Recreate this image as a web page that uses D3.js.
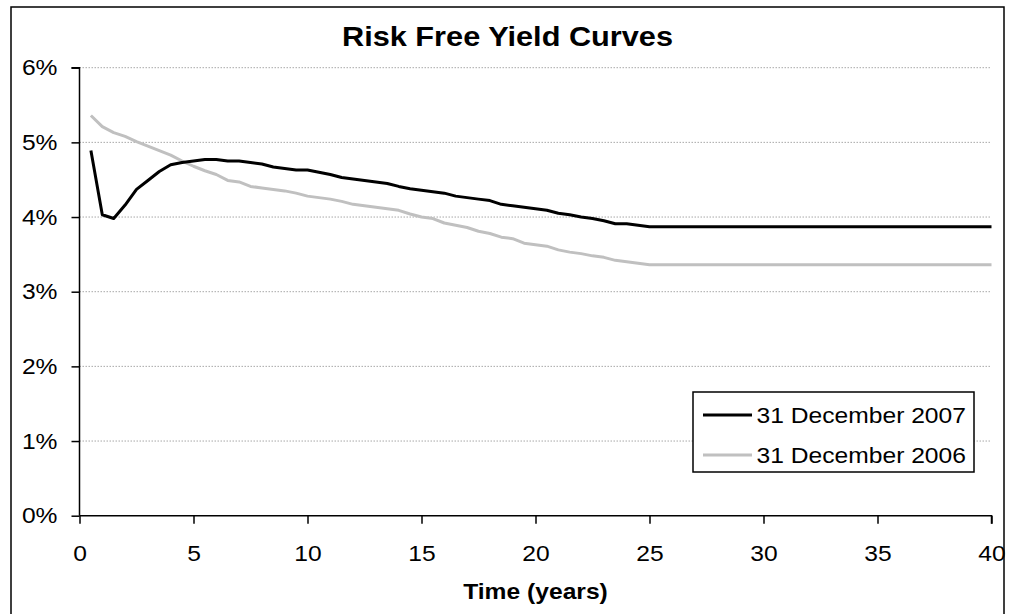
<!DOCTYPE html>
<html>
<head>
<meta charset="utf-8">
<script src="https://cdn.jsdelivr.net/npm/d3@7"></script>
<style>
  html, body { margin: 0; padding: 0; background: #fff; }
  svg text { font-family: "Liberation Sans", Arial, sans-serif; fill: #000; }
</style>
</head>
<body>
<div class="chart"></div>
<script>
const width = 1010;
const height = 614;

// maturities (years) and yields (%)
const years = [0.5, 1, 1.5, 2, 2.5, 3, 3.5, 4, 4.5, 5, 5.5, 6, 6.5, 7, 7.5, 8, 8.5, 9, 9.5, 10,
	10.5, 11, 11.5, 12, 12.5, 13, 13.5, 14, 14.5, 15, 15.5, 16, 16.5, 17, 17.5, 18, 18.5, 19, 19.5, 20,
	20.5, 21, 21.5, 22, 22.5, 23, 23.5, 24, 24.5, 25, 30, 35, 40];
const dec2007 = [4.89, 4.03, 3.98, 4.16, 4.37, 4.49, 4.61, 4.70, 4.73, 4.75, 4.77, 4.77, 4.75, 4.75, 4.73, 4.71, 4.67, 4.65, 4.63, 4.63,
	4.60, 4.57, 4.53, 4.51, 4.49, 4.47, 4.45, 4.41, 4.38, 4.36, 4.34, 4.32, 4.28, 4.26, 4.24, 4.22, 4.17, 4.15, 4.13, 4.11,
	4.09, 4.05, 4.03, 4.00, 3.98, 3.95, 3.91, 3.91, 3.89, 3.87, 3.87, 3.87, 3.87];
const dec2006 = [5.36, 5.21, 5.13, 5.08, 5.01, 4.95, 4.89, 4.83, 4.75, 4.68, 4.62, 4.57, 4.49, 4.47, 4.41, 4.39, 4.37, 4.35, 4.32, 4.28,
	4.26, 4.24, 4.21, 4.17, 4.15, 4.13, 4.11, 4.09, 4.04, 4.00, 3.98, 3.92, 3.89, 3.86, 3.81, 3.78, 3.73, 3.71, 3.65, 3.63,
	3.61, 3.56, 3.53, 3.51, 3.48, 3.46, 3.42, 3.40, 3.38, 3.36, 3.36, 3.36, 3.36];

const seriesNames = ['31 December 2007', '31 December 2006'];
const xTicks = [0, 5, 10, 15, 20, 25, 30, 35, 40];
const yTicks = [0, 1, 2, 3, 4, 5, 6];

const SX = 1.12; // text in the original is a bit stretched sideways

var svg = d3.select('.chart').append('svg')
	.attr('width', width)
	.attr('height', height);

// outer chart frame (bottom edge is cut off in the picture)
svg.append('rect')
	.attr('x', 11).attr('y', 7)
	.attr('width', 993).attr('height', 620)
	.attr('fill', '#fff')
	.attr('stroke', '#000')
	.attr('stroke-width', 1.5);

var x = d3.scaleLinear().domain([0, 40]).range([79.5, 991.5]);
var y = d3.scaleLinear().domain([0, 6]).range([515.7, 67.7]);

// gridlines
svg.append('g')
	.selectAll('line')
	.data(yTicks.filter(d => d > 0))
	.enter().append('line')
	.attr('x1', x(0)).attr('x2', x(40))
	.attr('y1', d => y(d)).attr('y2', d => y(d))
	.attr('stroke', '#a8a8a8')
	.attr('stroke-width', 1)
	.attr('stroke-dasharray', '1.5,1.5');

// axes
var yAxis = svg.append('g')
	.attr('transform', `translate(${x(0)},0)`)
	.call(d3.axisLeft(y).tickValues(yTicks).tickSize(8).tickFormat(d => d + '%'));
yAxis.selectAll('text')
	.attr('x', 0)
	.attr('transform', `translate(-22,0) scale(${SX},1)`)
	.style('font-size', '22px');

var xAxis = svg.append('g')
	.attr('transform', `translate(0,${y(0)})`)
	.call(d3.axisBottom(x).tickValues(xTicks).tickSize(8).tickFormat(d3.format('d')));
xAxis.selectAll('text')
	.attr('y', 0)
	.attr('dy', 0)
	.attr('transform', `translate(0,45.5) scale(${SX},1)`)
	.style('font-size', '22px');

svg.selectAll('.domain, .tick line')
	.attr('stroke', '#000')
	.attr('stroke-width', 1.5);
yAxis.select('.domain').attr('d', `M-8,${y(6)}H0V${y(0)}`);
xAxis.select('.domain').attr('d', `M${x(0)},0H${x(40)}V8`);

// curves
var line = d3.line()
	.x(d => x(d[0]))
	.y(d => y(d[1]));

svg.append('path')
	.datum(years.map((t, i) => [t, dec2006[i]]))
	.attr('fill', 'none')
	.attr('stroke', '#c0c0c0')
	.attr('stroke-width', 3)
	.attr('stroke-linejoin', 'round')
	.attr('d', line);

svg.append('path')
	.datum(years.map((t, i) => [t, dec2007[i]]))
	.attr('fill', 'none')
	.attr('stroke', '#000')
	.attr('stroke-width', 3)
	.attr('stroke-linejoin', 'round')
	.attr('d', line);

// title and axis title
svg.append('text')
	.attr('x', 507.5).attr('y', 45.5)
	.attr('text-anchor', 'middle')
	.attr('textLength', 331)
	.attr('lengthAdjust', 'spacingAndGlyphs')
	.style('font-size', '28px')
	.style('font-weight', 'bold')
	.text('Risk Free Yield Curves');

svg.append('text')
	.attr('transform', `translate(${x(20)},599) scale(${SX},1)`)
	.attr('text-anchor', 'middle')
	.style('font-size', '22px')
	.style('font-weight', 'bold')
	.text('Time (years)');

// legend
var legend = svg.append('g').attr('transform', 'translate(693,392)');
legend.append('rect')
	.attr('width', 281).attr('height', 80)
	.attr('fill', '#fff')
	.attr('stroke', '#000')
	.attr('stroke-width', 1.5);

var colors = ['#000', '#c0c0c0'];
var item = legend.selectAll('.item')
	.data(seriesNames)
	.enter().append('g')
	.attr('class', 'item')
	.attr('transform', (d, i) => `translate(0,${23 + i * 40})`);
item.append('line')
	.attr('x1', 10).attr('x2', 59)
	.attr('stroke', (d, i) => colors[i])
	.attr('stroke-width', 3);
item.append('text')
	.attr('transform', `translate(63.5,8) scale(${SX},1)`)
	.style('font-size', '22px')
	.text(d => d);
</script>
</body>
</html>
